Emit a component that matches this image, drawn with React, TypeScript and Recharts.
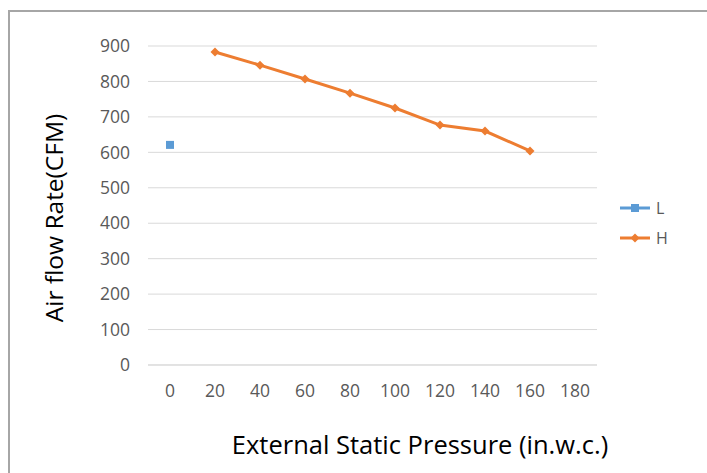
import { CartesianGrid, Line, LineChart, XAxis, YAxis } from 'recharts'

const pressures = [0, 20, 40, 60, 80, 100, 120, 140, 160, 180]
const lowFlow: (number | null)[] = [621, null, null, null, null, null, null, null, null, null]
const highFlow: (number | null)[] = [null, 883, 846, 807, 767, 725, 677, 660, 604, null]
const yTicks = [0, 100, 200, 300, 400, 500, 600, 700, 800, 900]

const BLUE = '#5B9BD5'
const ORANGE = '#ED7D31'
const FONT = '"Open Sans", sans-serif'

const data = pressures.map((p, i) => ({ p: String(p), L: lowFlow[i], H: highFlow[i] }))

const SquareDot = (props: any) => {
  const { cx, cy, value } = props
  if (value == null || cx == null || cy == null) return null
  return <rect x={cx - 4} y={cy - 4} width={8} height={8} fill={BLUE} />
}

const DiamondDot = (props: any) => {
  const { cx, cy, value } = props
  if (value == null || cx == null || cy == null) return null
  return <polygon points={`${cx},${cy - 4.5} ${cx + 4.5},${cy} ${cx},${cy + 4.5} ${cx - 4.5},${cy}`} fill={ORANGE} />
}

const LegendBox = () => (
  <svg width={70} height={50}>
    <line x1={2} y1={10} x2={32} y2={10} stroke={BLUE} strokeWidth={3} />
    <rect x={13} y={6} width={8} height={8} fill={BLUE} />
    <text x={38} y={16} fontSize={16} fill="#595959" fontFamily={FONT}>L</text>
    <line x1={2} y1={40} x2={32} y2={40} stroke={ORANGE} strokeWidth={3} />
    <polygon points="17,35.5 21.5,40 17,44.5 12.5,40" fill={ORANGE} />
    <text x={38} y={46} fontSize={16} fill="#595959" fontFamily={FONT}>H</text>
  </svg>
)

export default function App() {
  return (
    <div style={{ position: 'fixed', left: 0, top: 0, width: 707, height: 473, background: '#fff', overflow: 'hidden' }}>
      <div
        style={{
          position: 'absolute',
          left: 8,
          top: 10,
          width: 720,
          height: 480,
          borderTop: '2px solid #a6a6a6',
          borderLeft: '2px solid #a6a6a6',
        }}
      />
      <div style={{ position: 'absolute', left: 0, top: 0 }}>
        <LineChart width={707} height={473} data={data} margin={{ top: 46, right: 110, bottom: 68, left: 0 }}>
          <CartesianGrid vertical={false} stroke="#d9d9d9" strokeWidth={1} />
          <XAxis
            dataKey="p"
            axisLine={{ stroke: '#d9d9d9' }}
            tickLine={false}
            height={40}
            tickMargin={14}
            padding={{ left: 22, right: 22 }}
            tick={{ fill: '#595959', fontSize: 17.5, fontFamily: FONT }}
            interval={0}
          />
          <YAxis
            width={148}
            domain={[0, 900]}
            ticks={yTicks}
            axisLine={false}
            tickLine={false}
            tickMargin={12}
            tick={{ fill: '#595959', fontSize: 17.5, fontFamily: FONT }}
          />
          <Line dataKey="L" stroke={BLUE} strokeWidth={3} dot={<SquareDot />} activeDot={false} isAnimationActive={false} connectNulls={false} />
          <Line dataKey="H" stroke={ORANGE} strokeWidth={3} dot={<DiamondDot />} activeDot={false} isAnimationActive={false} connectNulls={false} />
          <text x={53} y={218} transform="rotate(-90 53 218)" textAnchor="middle" dominantBaseline="central" fontSize={24.5} fontFamily={FONT} fill="#000">
            Air flow Rate(CFM)
          </text>
          <text x={420} y={444} textAnchor="middle" dominantBaseline="central" fontSize={25.5} fontFamily={FONT} fill="#000">
            External Static Pressure (in.w.c.)
          </text>
        </LineChart>
      </div>
      <div style={{ position: 'absolute', left: 618, top: 198 }}>
        <LegendBox />
      </div>
    </div>
  )
}
